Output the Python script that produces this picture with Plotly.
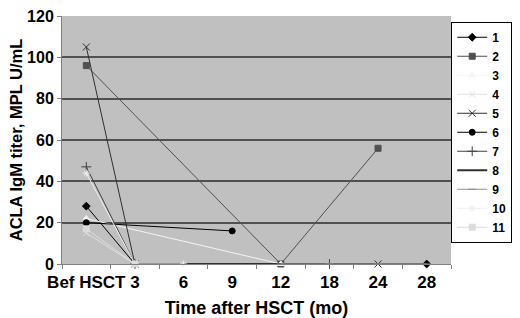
import plotly.graph_objects as go

categories = ["Bef HSCT", "3", "6", "9", "12", "18", "24", "28"]
y_ticks = [0, 20, 40, 60, 80, 100, 120]

s1 = [28, 0, None, None, None, None, None, 0]
s2 = [96, None, None, None, 0, None, 56, None]
s3 = [22, None, None, None, 0, None, None, None]
s4 = [15, 0, None, None, None, None, None, None]
s5 = [105, 0, None, None, None, None, 0, None]
s6 = [20, None, None, 16, None, None, None, None]
s7 = [47, 0, None, None, None, 0, None, None]
s8 = [None, None, 0, 0, 0, None, None, None]
s9 = [None, None, None, None, 0, 0, 0, 0]
s10 = [44, 0, 0, None, None, None, None, None]
s11 = [17, 0, None, None, None, None, None, None]

series = [
    ("1", s1, "#000000", "diamond", 6, 1),
    ("2", s2, "#505050", "square", 6, 1),
    ("3", s3, "#f4f4f4", "triangle-up", 6, 1),
    ("4", s4, "#e0e0e0", "x-thin-open", 6, 1),
    ("5", s5, "#303030", "x-thin-open", 7, 1),
    ("6", s6, "#000000", "circle", 6, 1),
    ("7", s7, "#404040", "cross-thin-open", 7, 1),
    ("8", s8, "#303030", "line-ew-open", 0, 2),
    ("9", s9, "#909090", "line-ew-open", 6, 1),
    ("10", s10, "#eeeeee", "asterisk-open", 6, 1),
    ("11", s11, "#dcdcdc", "square", 6, 1),
]

fig = go.Figure()
for name, vals, col, sym, size, lw in series:
    fig.add_trace(go.Scatter(
        x=categories, y=vals, name="<b>" + name + "</b>",
        mode="lines+markers" if size else "lines",
        connectgaps=True, cliponaxis=False,
        line=dict(color=col, width=lw),
        marker=dict(symbol=sym, size=size, color=col, line=dict(color=col, width=1)),
    ))

FONT = "Liberation Sans"
L, R, T, B = 62, 64, 8, 54
W, H = 520, 318
fig.update_layout(
    width=W, height=H,
    margin=dict(l=L, r=R, t=T, b=B),
    paper_bgcolor="white", plot_bgcolor="#c0c0c0",
    font=dict(family=FONT, size=14, color="black"),
    showlegend=True,
    legend=dict(
        x=(518 - L) / (W - L - R), xanchor="right",
        y=(H - B - 128) / (H - T - B), yanchor="middle",
        bordercolor="black", borderwidth=1, bgcolor="white",
        font=dict(family=FONT, size=12, color="black"),
        tracegroupgap=0, itemwidth=30,
    ),
    xaxis=dict(
        type="category", categoryorder="array", categoryarray=categories,
        tickvals=categories, ticktext=["<b>" + c + "</b>" for c in categories],
        tickangle=0, automargin=False, ticklabelstandoff=3,
        tickson="boundaries", ticks="outside", ticklen=4, tickcolor="#808080",
        showline=True, linecolor="#808080", linewidth=1, showgrid=False,
        tickfont=dict(family=FONT, size=17, color="black"),
        title=dict(text="<b>Time after HSCT (mo)</b>", standoff=11,
                   font=dict(family=FONT, size=18, color="black")),
        range=[-0.5, 7.5],
    ),
    yaxis=dict(
        range=[0, 120], tickvals=y_ticks, ticktext=["<b>%d</b>" % v for v in y_ticks],
        automargin=True, ticklabeloverflow="allow",
        ticks="outside", ticklen=4, tickcolor="#808080",
        showline=True, linecolor="#808080", linewidth=1,
        showgrid=True, gridcolor="#505050", gridwidth=1.5, zeroline=False,
        tickfont=dict(family=FONT, size=16, color="black"),
        title=dict(text="<b>ACLA IgM titer, MPL U/mL</b>", standoff=0,
                   font=dict(family=FONT, size=16.5, color="black")),
    ),
)

fig.write_html("out.html", config={"displayModeBar": False},
               post_script="document.body.style.margin='0';")
